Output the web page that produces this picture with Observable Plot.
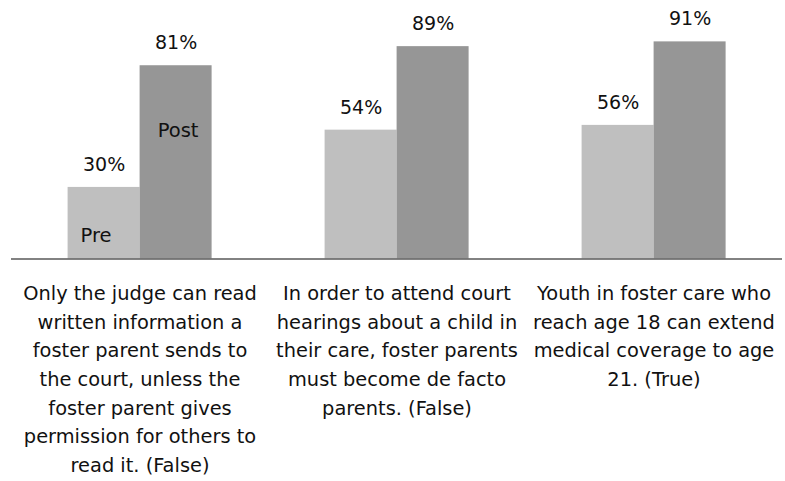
<!DOCTYPE html>
<html>
<head>
<meta charset="utf-8">
<script src="https://cdn.jsdelivr.net/npm/d3@7"></script>
<script src="https://cdn.jsdelivr.net/npm/@observablehq/plot@0.6"></script>
<style>
  html, body { margin: 0; padding: 0; background: #fff; }
  #chart svg { display: block; }
</style>
</head>
<body>
<div id="chart"></div>
<script>
// Question categories (line breaks as shown in the chart)
const questions = [
  "Only the judge can read\nwritten information a\nfoster parent sends to\nthe court, unless the\nfoster parent gives\npermission for others to\nread it. (False)",
  "In order to attend court\nhearings about a child in\ntheir care, foster parents\nmust become de facto\nparents. (False)",
  "Youth in foster care who\nreach age 18 can extend\nmedical coverage to age\n21. (True)"
];
const series = ["Pre", "Post"];
const preValues = [30, 54, 56];
const postValues = [81, 89, 91];
const colors = ["#bfbfbf", "#969696"];

const table = [];
questions.forEach((q, i) => {
  table.push({question: q, series: "Pre", value: preValues[i]});
  table.push({question: q, series: "Post", value: postValues[i]});
});
const firstPre = table.filter(d => d.question === questions[0] && d.series === "Pre");
const firstPost = table.filter(d => d.question === questions[0] && d.series === "Post");

const font = "'DejaVu Sans', Verdana, sans-serif";

const chart = Plot.plot({
  width: 785,
  height: 481,
  marginLeft: 10.4,
  marginRight: 3,
  marginTop: 19.9,
  marginBottom: 222.5,
  style: {fontFamily: font, background: "#fff"},
  fx: {domain: questions, padding: 0, axis: null},
  x: {domain: series, paddingInner: 0, paddingOuter: 0.762, axis: null},
  y: {domain: [0, 100], axis: null},
  color: {domain: series, range: colors},
  marks: [
    Plot.barY(table, {fx: "question", x: "series", y: "value", fill: "series"}),
    Plot.ruleY([0], {stroke: "#595959", strokeWidth: 1.5}),
    Plot.text(table, {
      fx: "question", x: "series", y: "value",
      text: d => d.value + "%",
      lineAnchor: "bottom", dy: -16.5,
      fontSize: 19, fill: "#111"
    }),
    Plot.text(firstPre, {
      fx: "question", x: "series", y: 0, text: "series",
      lineAnchor: "bottom", dy: -17.3, dx: -8,
      fontSize: 19.5, fill: "#111"
    }),
    Plot.text(firstPost, {
      fx: "question", x: "series", y: "value", text: "series",
      lineAnchor: "bottom", dy: 71.3, dx: 2,
      fontSize: 19.5, fill: "#111"
    }),
    Plot.text(questions, {
      fx: d => d, text: d => d,
      frameAnchor: "bottom", lineAnchor: "top",
      lineHeight: 28.7 / 19.4, dy: 20.6,
      fontSize: 19.4, fill: "#111"
    })
  ]
});
document.getElementById("chart").appendChild(chart);
</script>
</body>
</html>
